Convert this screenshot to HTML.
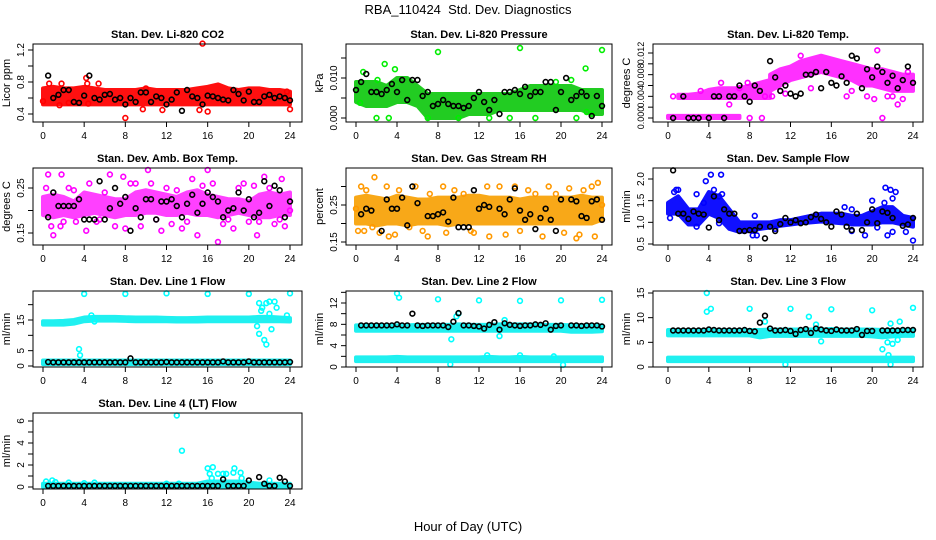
<!DOCTYPE html>
<html><head><meta charset="utf-8"><style>
body{margin:0;background:#fff;}
svg{display:block;font-family:"Liberation Sans",Arial,sans-serif;}
</style></head><body>
<svg id="chart" width="936" height="540" viewBox="0 0 936 540" xmlns="http://www.w3.org/2000/svg">
<rect width="936" height="540" fill="#fff"/>
<text x="468" y="14" text-anchor="middle" font-size="13">RBA_110424&#160; Std. Dev. Diagnostics</text>
<text x="468" y="531" text-anchor="middle" font-size="13">Hour of Day (UTC)</text>
<g id="panels"></g>
</svg>
<script>
const xTicks=[0,4,8,12,16,20,24];
const xTickLabels=["0","4","8","12","16","20","24"];
const hours=[0,1,2,3,4,5,6,7,8,9,10,11,12,13,14,15,16,17,18,19,20,21,22,23,24];
const halfHours=[0,0.5,1,1.5,2,2.5,3,3.5,4,4.5,5,5.5,6,6.5,7,7.5,8,8.5,9,9.5,10,10.5,11,11.5,12,12.5,13,13.5,14,14.5,15,15.5,16,16.5,17,17.5,18,18.5,19,19.5,20,20.5,21,21.5,22,22.5,23,23.5,24];

// CO2
const co2Lo=[0.52,0.52,0.52,0.52,0.52,0.52,0.52,0.52,0.52,0.52,0.52,0.52,0.52,0.52,0.52,0.52,0.52,0.52,0.52,0.52,0.52,0.52,0.52,0.52,0.52];
const co2Hi=[0.72,0.74,0.72,0.72,0.74,0.72,0.7,0.7,0.7,0.7,0.72,0.7,0.7,0.7,0.7,0.72,0.74,0.77,0.72,0.7,0.72,0.72,0.7,0.7,0.68];
const co2Out=[[0.6,0.78],[1.8,0.78],[4.2,0.85],[4.3,0.78],[5.4,0.78],[8,0.35],[1.6,0.51],[11.6,0.45],[15.5,1.28],[15.2,0.45],[16,0.43],[24,0.46],[23.7,0.68],[10,0.72],[4.4,0.53],[2.5,0.54],[0,0.56],[9.7,0.46]];
const co2Blk=[null,0.88,0.6,0.64,0.7,0.7,0.55,0.54,0.63,0.88,0.6,0.58,0.64,0.65,0.58,0.6,0.52,0.6,0.55,0.67,0.67,0.55,0.62,0.6,0.52,0.58,0.67,0.44,0.7,0.62,0.6,0.52,0.63,0.62,0.6,0.58,0.57,0.7,0.65,0.57,0.68,0.55,0.55,0.62,0.64,0.6,0.62,0.6,0.57];
// Pressure
const presLo=[0.004,0.003,0.003,0.003,0.004,0.004,0.003,0.000,0.000,0.000,0.000,0.001,0.001,0.001,0.002,0.002,0.002,0.002,0.002,0.002,0.002,0.002,0.002,0.001,0.001];
const presHi=[0.009,0.009,0.009,0.008,0.010,0.010,0.008,0.006,0.006,0.006,0.006,0.006,0.006,0.006,0.006,0.006,0.007,0.008,0.008,0.008,0.008,0.008,0.007,0.007,0.007];
const presOut=[[8,0.0165],[16,0.0175],[24,0.017],[2.8,0.0135],[22.4,0.0124],[0.7,0.0115],[3.8,0.0122],[2,0],[3.2,0],[0.4,0.0038],[2.1,0.0095],[19.5,0.009],[21,0.0095],[22.5,0.0015],[21.5,0],[23,0.001],[7,0],[10,0],[13,0],[15,0],[17.5,0]];
const presBlk=[0.007,0.009,0.011,0.0065,0.0065,0.006,0.007,0.0085,0.0065,0.0095,0.0045,0.0095,0.0095,0.0055,0.0065,0.003,0.0035,0.0045,0.0035,0.003,0.003,0.0025,0.003,0.005,0.0065,0.004,0.002,0.0045,0.001,0.0065,0.0065,0.007,0.006,0.0078,0.0055,0.0065,0.0065,0.009,0.009,0.002,0.0065,0.01,0.0045,0.0055,0.0065,0.0055,0.0005,0.0055,0.003];
// Li-820 temp (three separate clusters; null = no cluster at that hour)
const tempLoA=[0,0,0,0,0,0,0,0,null,null,null,null,null,null,null,null,null,null,null,null,null,null,null,null,null];
const tempHiA=[0.0004,0.0004,0.0004,0.0004,0.0004,0.0004,0.0004,0.0004,null,null,null,null,null,null,null,null,null,null,null,null,null,null,null,null,null];
const tempLoB=[null,0.0037,0.0037,0.0037,0.0037,0.0037,0.0037,0.0037,0.0037,0.0037,0.0037,null,null,null,null,null,null,null,null,null,null,null,null,null,null];
const tempHiB=[null,0.0043,0.0043,0.0045,0.0052,0.0055,0.0055,0.0055,0.006,0.0065,0.007,null,null,null,null,null,null,null,null,null,null,null,null,null,null];
const tempLoC=[null,null,null,null,null,null,null,null,null,null,0.005,0.006,0.007,0.0075,0.008,0.0085,0.008,0.0075,0.007,0.006,0.006,0.0055,0.005,0.005,0.005];
const tempHiC=[null,null,null,null,null,null,null,null,null,null,0.008,0.009,0.0095,0.0105,0.011,0.0115,0.011,0.0105,0.01,0.0095,0.009,0.009,0.0085,0.008,0.008];
const tempOut=[[20.5,0.0125],[13,0.0115],[21,0],[22.5,0.0025],[17.5,0.004],[19.5,0.004],[8,0],[9.2,0],[23.5,0.0085],[6,0.0025],[5.2,0.0065],[3.2,0.005],[11.5,0.0045],[0.5,0.004],[10.2,0.004],[11,0.005],[9.5,0.004],[14,0.0055],[18,0.005],[21.5,0.004],[23,0.0035],[22,0.004],[20.2,0.0035],[7,0.0055],[7.8,0.0065]];
const tempBlk=[null,0,null,0.004,0,0,0,null,0,0.004,0.004,0,0.004,0.004,0.006,0.004,0.003,0.006,0.005,null,0.0105,0.0075,0.005,0.006,0.0045,0.004,0.0045,0.008,0.008,0.0085,0.0055,0.0085,0.0065,0.006,0.0077,0.0065,0.0115,0.011,0.0055,0.009,0.0075,0.0095,0.0085,0.0065,0.0078,0.0055,0.007,0.0095,0.0065];
// Amb box temp
const ambLo=[0.19,0.185,0.19,0.185,0.19,0.195,0.19,0.185,0.19,0.19,0.195,0.195,0.19,0.19,0.195,0.19,0.19,0.185,0.19,0.195,0.19,0.185,0.185,0.19,0.19];
const ambHi=[0.23,0.235,0.23,0.22,0.24,0.235,0.23,0.225,0.225,0.24,0.245,0.24,0.235,0.23,0.24,0.245,0.235,0.23,0.225,0.225,0.22,0.235,0.24,0.235,0.24];
const ambOut=[[0.5,0.28],[1.8,0.28],[0.8,0.165],[1,0.145],[1.7,0.165],[2.5,0.25],[3.2,0.175],[4.2,0.155],[4.5,0.26],[5.2,0.175],[6.5,0.28],[7,0.165],[7.8,0.275],[8.5,0.26],[9.5,0.165],[10.2,0.29],[10.5,0.26],[11.5,0.155],[12.5,0.17],[13.5,0.16],[14.5,0.27],[15,0.145],[16,0.29],[16.5,0.26],[17,0.13],[17.5,0.17],[18.5,0.16],[19.5,0.26],[20.5,0.255],[20.8,0.145],[21.5,0.275],[22,0.25],[22.5,0.17],[23.2,0.27],[23.5,0.165],[24,0.2],[0.3,0.25],[3,0.245],[6,0.24],[9,0.26],[12,0.25],[13,0.245],[15.5,0.255],[19,0.25],[21,0.175],[2,0.175],[5.5,0.18],[8,0.16],[11,0.18],[14,0.175],[18,0.18],[20,0.175],[23,0.18]];
const ambBlk=[null,0.185,0.24,0.21,0.21,0.21,0.21,0.225,0.18,0.18,0.18,0.265,0.18,0.205,0.25,0.215,0.23,0.155,0.205,0.185,0.225,0.225,0.18,0.22,0.22,0.225,0.21,0.185,0.215,0.235,0.195,0.215,0.24,0.23,0.22,0.185,0.2,0.205,0.24,0.2,0.225,0.185,0.195,0.265,0.21,0.255,0.245,0.185,0.22];
// Gas stream RH
const rhLo=[0.2,0.2,0.195,0.2,0.2,0.195,0.2,0.2,0.2,0.195,0.2,0.2,0.2,0.2,0.2,0.2,0.2,0.2,0.2,0.2,0.2,0.2,0.2,0.2,0.21];
const rhHi=[0.27,0.275,0.27,0.265,0.275,0.27,0.265,0.265,0.27,0.27,0.27,0.275,0.275,0.27,0.27,0.27,0.265,0.27,0.27,0.27,0.27,0.27,0.275,0.27,0.27];
const rhOut=[[1.8,0.325],[0.5,0.3],[1,0.29],[0.2,0.18],[0.8,0.18],[1.6,0.19],[2.3,0.175],[3,0.3],[3.2,0.165],[3.8,0.17],[4.2,0.29],[5.2,0.19],[5.8,0.3],[6.5,0.18],[7,0.165],[7.2,0.28],[8.5,0.3],[8.8,0.175],[9.6,0.29],[10.5,0.28],[11.2,0.18],[11.5,0.175],[12.8,0.3],[13,0.165],[14,0.3],[14.6,0.17],[15.5,0.3],[16,0.18],[16.8,0.29],[17.5,0.28],[18.2,0.165],[18.8,0.3],[19.5,0.28],[20.3,0.175],[20.8,0.295],[21.5,0.16],[21.8,0.17],[22.2,0.29],[23,0.3],[23.3,0.165],[23.6,0.31],[24,0.25],[0,0.24]];
const rhBlk=[null,0.225,0.24,0.235,null,0.18,0.265,0.24,0.24,0.27,0.195,0.3,0.255,null,0.22,0.22,0.225,0.23,0.205,0.27,0.19,0.19,0.19,0.29,0.24,0.25,0.245,null,0.24,0.225,0.265,0.295,0.235,0.21,0.225,0.185,0.215,0.24,0.21,0.18,0.265,null,0.265,0.26,0.22,0.215,0.26,0.265,0.21];
// Sample flow
const sfLo=[1.2,1.2,0.95,0.95,1.2,1.1,0.85,0.78,0.8,0.85,0.88,0.92,0.95,0.98,1.0,1.02,1.0,0.98,0.95,0.95,0.95,1.0,1.0,0.95,0.9];
const sfHi=[1.45,1.6,1.3,1.3,1.7,1.6,1.3,1.0,1.0,1.0,1.0,1.05,1.05,1.1,1.15,1.2,1.2,1.2,1.15,1.15,1.25,1.35,1.35,1.15,1.1];
const sfOut=[[0.2,1.1],[0.8,1.75],[2.8,1.65],[3.7,1.95],[4.2,2.1],[5.2,2.1],[4.5,1.75],[5,1.6],[3.5,1.45],[5.3,1.65],[5,0.98],[2.8,0.9],[8.5,1.15],[8.3,0.7],[8.7,0.7],[10.5,0.85],[17.3,1.35],[18,1.3],[18,0.8],[19.3,0.7],[20,1.5],[20.5,0.88],[21.3,1.8],[21.8,1.75],[22.3,1.7],[21.5,0.7],[22,0.78],[23.3,0.78],[24,0.58],[21.2,1.45],[22,1.55],[0.6,1.7],[1,1.75]];
const sfBlk=[null,2.2,1.2,1.2,1.08,1.25,1.2,1.18,0.88,1.6,1.05,1.3,1.2,1.2,0.8,0.8,0.82,0.82,0.9,0.63,0.9,0.8,0.96,1.1,1.0,1.05,0.98,1.0,1.12,1.18,1.08,1.0,0.9,1.25,1.18,0.9,0.82,1.2,0.82,1.0,1.3,0.98,1.25,1.22,1.1,null,0.92,0.95,1.1];
// Line 1
const l1Lo=[13.5,13.5,13.5,13.8,14.6,14.8,14.8,14.8,14.7,14.6,14.6,14.6,14.6,14.5,14.5,14.5,14.6,14.6,14.6,14.6,14.6,14.6,14.6,14.6,14.5];
const l1Hi=[14.6,14.6,14.7,15.0,15.8,16.0,16.0,16.0,15.9,15.8,15.8,15.8,15.7,15.6,15.6,15.7,15.8,15.8,15.8,15.8,15.8,16.0,16.0,15.8,15.6];
const l1Lo2=[0.6,0.6,0.6,0.6,0.6,0.6,0.6,0.6,0.6,0.6,0.6,0.6,0.6,0.6,0.6,0.6,0.6,0.6,0.6,0.6,0.6,0.6,0.6,0.6,0.6];
const l1Hi2=[1.8,1.8,1.8,1.8,1.8,1.8,1.8,1.8,1.8,1.8,1.8,1.8,1.8,1.8,1.8,1.8,1.8,1.8,1.8,1.8,1.8,1.8,1.8,1.8,1.8];
const l1Out=[[4,23.5],[8,23.5],[12,23.7],[16,23.5],[20,23.5],[24,23.7],[3.5,5.5],[3.6,3.5],[21,20.5],[21.3,19],[21.7,20.5],[22,21],[22.5,21],[21.2,18],[22,17],[22.7,19],[21,10.5],[21.5,8.5],[21.7,7],[22.2,12],[20.8,13],[23.7,16.5],[4.7,16.5],[5,14.5]];
const l1Blk=[null,1.3,1.2,1.2,1.2,1.2,1.2,1.2,1.2,1.2,1.2,1.2,1.2,1.2,1.2,1.2,1.2,2.5,1.2,1.2,1.2,1.2,1.2,1.2,1.3,1.2,1.2,1.2,1.2,1.2,1.2,1.2,1.2,1.2,1.2,1.5,1.2,1.2,1.2,1.2,1.5,1.2,1.2,1.2,1.2,1.2,1.2,1.2,1.3];
// Line 2
const l2Lo=[6.8,6.8,6.8,6.8,6.8,6.8,6.8,6.8,6.8,6.8,6.8,6.8,6.8,6.8,6.8,6.8,6.8,6.8,6.8,6.8,6.8,6.6,6.6,6.6,6.7];
const l2Hi=[7.8,7.8,7.8,7.8,7.8,7.8,7.9,7.9,7.9,7.9,8.0,7.9,7.9,7.9,8.0,8.0,8.0,8.0,7.9,7.9,7.9,7.8,7.8,7.8,7.8];
const l2Lo2=[1.1,1.1,1.1,1.1,1.1,1.1,1.1,1.1,1.1,1.1,1.1,1.1,1.1,1.1,1.1,1.1,1.1,1.1,1.1,1.1,1.1,1.1,1.1,1.1,1.1];
const l2Hi2=[1.8,1.8,1.8,1.8,1.9,1.8,1.8,1.8,1.8,1.8,1.8,1.8,1.8,1.9,1.8,1.8,1.9,1.8,1.8,1.8,1.8,1.8,1.8,1.8,1.8];
const l2Out=[[4,13.8],[4.2,13],[8,12.7],[12,12.5],[16,12.4],[20,12.5],[24,12.6],[9.2,0.5],[20.2,0.4],[9.3,5.2],[10,10],[14,5.8],[12.8,2.2],[16,2.2],[19.3,2],[14.5,8.8],[9.8,9.5]];
const l2Blk=[null,7.8,7.8,7.8,7.8,7.8,7.8,7.8,8.0,7.8,7.8,10.0,7.8,7.7,7.8,7.8,7.8,7.8,7.5,8.5,10.1,7.8,7.8,7.7,7.6,7.2,7.9,8.4,7.0,8.2,7.9,7.8,7.7,7.8,7.8,8.0,7.9,8.2,7.0,7.7,7.8,null,7.8,7.8,7.7,7.8,7.8,7.8,7.6];
// Line 3
const l3Lo=[6.4,6.4,6.4,6.4,6.4,6.4,6.4,6.4,6.4,6.0,6.3,6.3,6.3,6.3,6.3,6.3,6.3,6.3,6.3,6.3,6.2,6.0,6.2,6.3,6.3];
const l3Hi=[7.5,7.5,7.5,7.5,7.5,7.5,7.5,7.5,7.5,7.5,7.6,7.6,7.6,7.6,7.6,7.6,7.7,7.6,7.6,7.6,7.6,7.5,7.5,7.5,7.5];
const l3Lo2=[1.2,1.2,1.2,1.2,1.2,1.2,1.2,1.2,1.2,1.2,1.2,1.2,1.2,1.2,1.2,1.2,1.2,1.2,1.2,1.2,1.2,1.2,1.2,1.2,1.2];
const l3Hi2=[1.9,1.9,1.9,1.9,1.9,1.9,1.9,1.9,1.9,1.9,1.9,1.9,1.9,1.9,1.9,1.9,1.9,1.9,1.9,1.9,1.9,1.9,1.9,1.9,1.9];
const l3Out=[[3.8,15],[3.8,11.2],[4.2,11.8],[8,11.8],[12,11.8],[16,11.7],[20,11.5],[24,12],[13.8,10.2],[9.5,9.2],[15,5.2],[21,3.6],[21.5,5],[21.8,8.8],[22,4.7],[22.3,6.5],[22.5,5.5],[22.7,9.2],[21.6,2.4],[21.8,0.5],[11.5,0.5],[14.5,8.6]];
const l3Blk=[null,7.4,7.4,7.4,7.4,7.4,7.4,7.4,7.6,7.5,7.4,7.4,7.4,7.4,7.4,7.5,7.3,7.2,9.0,10.4,7.8,7.4,7.4,7.5,7.3,6.7,7.5,7.7,6.9,7.8,7.6,7.4,7.3,7.6,7.4,7.4,7.4,7.7,6.5,7.3,7.3,null,7.4,7.4,7.4,7.4,7.5,7.5,7.5];
// Line 4
const l4Lo=[0,0,0,0,0,0,0,0,0,0,0,0,0,0,0,0,0,0,0,0,0,0,0,0,0];
const l4Hi=[0.3,0.3,0.3,0.3,0.3,0.3,0.3,0.3,0.3,0.3,0.3,0.3,0.3,0.3,0.3,0.3,0.5,0.5,0.5,0.5,0.4,0.3,0.3,0.3,0.3];
const l4Out=[[13,6.5],[13.5,3.3],[16,1.7],[16.5,1.8],[17,1.2],[16.2,1.2],[18.6,1.7],[18.5,1.3],[19.2,1.3],[19.3,0.8],[17.8,1.2],[0.3,0.5],[0.9,0.6],[2.5,0.4],[5,0.4],[12,0.3],[13.2,0.3],[16.4,0.8],[22,0.6],[17.5,1.2],[4,0.35],[1.2,0.45]];
const l4Blk=[null,0.1,0.1,0.1,0.1,0.1,0.1,0.1,0.1,0.1,0.1,0.1,0.1,0.1,0.1,0.1,0.1,0.1,0.1,0.1,0.1,0.1,0.1,0.1,0.1,0.1,0.1,0.1,0.1,0.1,0.1,0.1,0.1,0.1,0.1,0.7,0.1,0.1,0.1,0.1,0.6,null,0.9,0.3,0.1,0.1,0.85,0.5,0.1];

const NS="http://www.w3.org/2000/svg";
const cols=[{x0:43,x24:290,l:33,r:302},{x0:356,x24:602,l:346,r:612},{x0:668,x24:913,l:653,r:923}];
const rows=[{t:44,b:122},{t:168,b:245},{t:291,b:367},{t:413,b:489}];
const panels=[
 {name:"co2",title:"Stan. Dev. Li-820 CO2",ylab:"Licor ppm",c:0,r:0,v1:0.4,p1:114,v2:1.2,p2:50,ticks:[0.4,0.6,0.8,1.0,1.2],labels:["0.4","","0.8","","1.2"],col:"#ff0000",fill:"#ff1010",bands:[[co2Lo,co2Hi]],out:co2Out,blk:co2Blk},
 {name:"pressure",title:"Stan. Dev. Li-820 Pressure",ylab:"kPa",c:1,r:0,v1:0,p1:118,v2:0.01,p2:78,ticks:[0,0.005,0.01,0.015],labels:["0.000","","0.010",""],col:"#00ee00",fill:"#22cc22",bands:[[presLo,presHi]],out:presOut,blk:presBlk},
 {name:"li820-temp",title:"Stan. Dev. Li-820 Temp.",ylab:"degrees C",c:2,r:0,v1:0,p1:118,v2:0.012,p2:53,ticks:[0,0.002,0.004,0.006,0.008,0.01,0.012],labels:["0.000","","0.004","","0.008","","0.012"],tfs:9,col:"#ff00ff",fill:"#ff30ff",bands:[[tempLoA,tempHiA],[tempLoB,tempHiB],[tempLoC,tempHiC]],out:tempOut,blk:tempBlk},
 {name:"amb-box-temp",title:"Stan. Dev. Amb. Box Temp.",ylab:"degrees C",c:0,r:1,v1:0.15,p1:233,v2:0.25,p2:188,ticks:[0.15,0.2,0.25],labels:["0.15","","0.25"],col:"#ff00ff",fill:"#ff40ff",bands:[[ambLo,ambHi]],out:ambOut,blk:ambBlk},
 {name:"gas-stream-rh",title:"Stan. Dev. Gas Stream RH",ylab:"percent",c:1,r:1,v1:0.15,p1:242,v2:0.25,p2:205,ticks:[0.15,0.2,0.25,0.3],labels:["0.15","","0.25",""],col:"#ff9900",fill:"#f8a818",bands:[[rhLo,rhHi]],out:rhOut,blk:rhBlk},
 {name:"sample-flow",title:"Stan. Dev. Sample Flow",ylab:"ml/min",c:2,r:1,v1:0.5,p1:244,v2:2.0,p2:179,ticks:[0.5,1.0,1.5,2.0],labels:["0.5","1.0","1.5","2.0"],col:"#0000ff",fill:"#1010ff",bands:[[sfLo,sfHi]],out:sfOut,blk:sfBlk},
 {name:"line1-flow",title:"Stan. Dev. Line 1 Flow",ylab:"ml/min",c:0,r:2,v1:0,p1:366,v2:15,p2:320,ticks:[0,5,10,15,20],labels:["0","5","","15",""],col:"#00ffff",fill:"#20f0f0",bands:[[l1Lo,l1Hi],[l1Lo2,l1Hi2]],out:l1Out,blk:l1Blk},
 {name:"line2-flow",title:"Stan. Dev. Line 2 Flow",ylab:"ml/min",c:1,r:2,v1:0,p1:367,v2:12,p2:303,ticks:[0,2,4,6,8,10,12,14],labels:["0","","4","","8","","12",""],col:"#00ffff",fill:"#20f0f0",bands:[[l2Lo,l2Hi],[l2Lo2,l2Hi2]],out:l2Out,blk:l2Blk},
 {name:"line3-flow",title:"Stan. Dev. Line 3 Flow",ylab:"ml/min",c:2,r:2,v1:0,p1:367,v2:15,p2:293,ticks:[0,5,10,15],labels:["0","5","10","15"],col:"#00ffff",fill:"#20f0f0",bands:[[l3Lo,l3Hi],[l3Lo2,l3Hi2]],out:l3Out,blk:l3Blk},
 {name:"line4-flow",title:"Stan. Dev. Line 4 (LT) Flow",ylab:"ml/min",c:0,r:3,v1:0,p1:487,v2:6,p2:421,ticks:[0,1,2,3,4,5,6],labels:["0","","2","","4","","6"],col:"#00ffff",fill:"#20f0f0",bands:[[l4Lo,l4Hi]],out:l4Out,blk:l4Blk}
];
function mk(tag,attrs,parent){const e=document.createElementNS(NS,tag);for(const k in attrs)e.setAttribute(k,attrs[k]);if(parent)parent.appendChild(e);return e;}
const root=document.getElementById("panels");
panels.forEach(p=>{
 const C=cols[p.c],R=rows[p.r];
 const sx=t=>C.x0+(C.x24-C.x0)*t/24;
 const sy=v=>p.p1+(p.p2-p.p1)*(v-p.v1)/(p.v2-p.v1);
 const g=mk("g",{},root);
 
 
 const ti=mk("text",{x:(C.l+C.r)/2,y:R.t-6,"text-anchor":"middle","font-size":"11","font-weight":"bold"},g);
 ti.textContent=p.title;
 
 
 p.bands.forEach(([lo,hi])=>{
  let segs=[],cur=[];
  hours.forEach((h,i)=>{
   if(lo[i]===null||hi[i]===null){if(cur.length)segs.push(cur);cur=[];}
   else cur.push(i);
  });
  if(cur.length)segs.push(cur);
  segs.forEach(idx=>{
   let pts=[];
   idx.forEach(i=>pts.push(sx(hours[i])+","+sy(hi[i])));
   for(let k=idx.length-1;k>=0;k--)pts.push(sx(hours[idx[k]])+","+sy(lo[idx[k]]));
   const b=mk("polygon",{points:pts.join(" "),fill:p.fill,stroke:p.fill,"stroke-width":"4","stroke-linejoin":"round"},g);
   
   
  });
 });
 p.out.forEach(([t,v])=>{
  const c=mk("circle",{cx:sx(t),cy:sy(v),r:2.4,fill:"none",stroke:p.col,"stroke-width":"1.6"},g);
  
  
 });
 p.blk.forEach((v,i)=>{
  if(v===null)return;
  const c=mk("circle",{cx:sx(halfHours[i]),cy:sy(v),r:2.4,fill:"none",stroke:"#000","stroke-width":"1.6"},g);
  
  
 });
 const box=mk("rect",{x:C.l,y:R.t,width:C.r-C.l,height:R.b-R.t,fill:"none",stroke:"#000","stroke-width":"1"},g);
 
 
 mk("line",{x1:sx(0),x2:sx(24),y1:R.b,y2:R.b,stroke:"#000"},g);
 xTicks.forEach((t,i)=>{
  mk("line",{x1:sx(t),x2:sx(t),y1:R.b,y2:R.b+5,stroke:"#000"},g);
  const tl=mk("text",{x:sx(t),y:R.b+17,"text-anchor":"middle","font-size":"10"},g);
  tl.textContent=xTickLabels[i];
  
  
 });
 mk("line",{x1:C.l,x2:C.l,y1:sy(p.ticks[0]),y2:sy(p.ticks[p.ticks.length-1]),stroke:"#000"},g);
 const tfs=p.tfs||10;
 p.ticks.forEach((v,i)=>{
  const y=sy(v);
  mk("line",{x1:C.l-5,x2:C.l,y1:y,y2:y,stroke:"#000"},g);
  if(p.labels[i]){
   const tl=mk("text",{x:C.l-9,y:y,"text-anchor":"middle","font-size":tfs,transform:`rotate(-90 ${C.l-9} ${y})`},g);
   tl.textContent=p.labels[i];
   
   
  }
 });
 const yc=(R.t+R.b)/2, yx=C.l-23;
 const yl=mk("text",{x:yx,y:yc,"text-anchor":"middle","font-size":"11",transform:`rotate(-90 ${yx} ${yc})`},g);
 yl.textContent=p.ylab;
 
 
});
</script>
</body></html>
